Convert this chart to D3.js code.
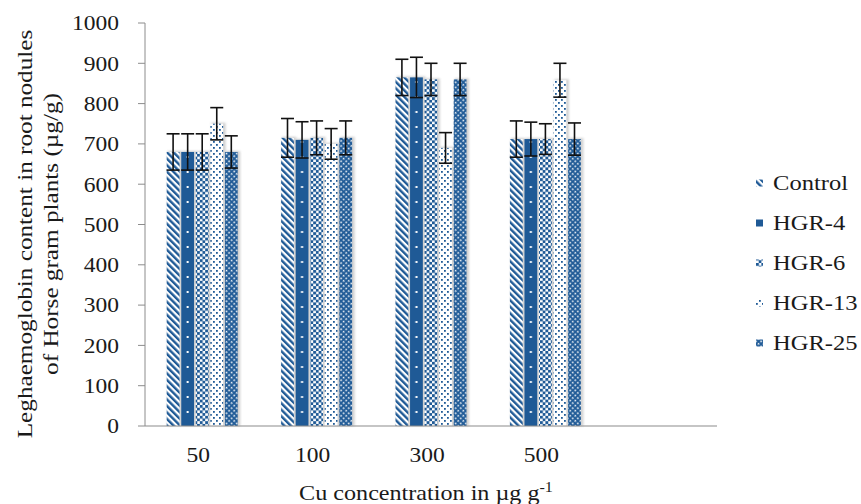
<!DOCTYPE html>
<html>
<head>
<meta charset="utf-8">
<script src="https://cdn.jsdelivr.net/npm/d3@7/dist/d3.min.js"></script>
<style>
  body { margin: 0; background: #fff; }
  text { font-family: "Liberation Serif", "Times New Roman", serif; fill: #1a1a1a; }
</style>
</head>
<body>
<svg width="861" height="504"></svg>
<script>
// data
let concentrations = ["50", "100", "300", "500"];
let series = ["Control", "HGR-4", "HGR-6", "HGR-13", "HGR-25"];
let control = [680, 715, 865, 712];
let hgr4 = [680, 710, 865, 712];
let hgr6 = [680, 715, 860, 712];
let hgr13 = [750, 700, 690, 858];
let hgr25 = [680, 715, 860, 712];
let errControl = [45, 48, 45, 45];
let errHgr4 = [45, 45, 50, 42];
let errHgr6 = [45, 42, 40, 38];
let errHgr13 = [40, 38, 38, 42];
let errHgr25 = [40, 42, 40, 40];
let yTicks = [0, 100, 200, 300, 400, 500, 600, 700, 800, 900, 1000];

let values = [control, hgr4, hgr6, hgr13, hgr25];
let errors = [errControl, errHgr4, errHgr6, errHgr13, errHgr25];

let blue = "#1f5a96";

let svg = d3.select("svg");

let plotLeft = 145, plotRight = 717, plotTop = 23, plotBottom = 426;

// 5 slots on the axis, last one stays empty
let x = d3.scaleBand().domain(concentrations.concat([" "])).range([plotLeft, plotRight]);
let groupW = 71;
let xs = d3.scaleBand().domain(series).range([0, groupW]).paddingInner(0.12);
let y = d3.scaleLinear().domain([0, 1000]).range([plotBottom, plotTop]);

function groupStart(c) {
  return x(c) + x.bandwidth() / 2 - groupW / 2;
}

// the text in the picture is a bit wider than Liberation Serif
function place(px, py, sx) {
  return `translate(${px},${py}) scale(${sx},1)`;
}

let defs = svg.append("defs");

// control: diagonal stripes
defs.append("pattern").attr("id", "pat0")
  .attr("patternUnits", "userSpaceOnUse").attr("width", 4.6).attr("height", 4.6)
  .attr("patternTransform", "rotate(-45)")
  .call(p => {
    p.append("rect").attr("width", 4.6).attr("height", 4.6).attr("fill", "#fff");
    p.append("rect").attr("width", 2.4).attr("height", 4.6).attr("fill", blue);
  });

// HGR-4: solid with a white dot down the middle
let hgr4Center = (groupStart(concentrations[0]) + xs("HGR-4") + xs.bandwidth() / 2) % x.step();
defs.append("pattern").attr("id", "pat1")
  .attr("patternUnits", "userSpaceOnUse").attr("width", x.step()).attr("height", 15)
  .call(p => {
    p.append("rect").attr("width", x.step()).attr("height", 15).attr("fill", blue);
    p.append("rect").attr("x", hgr4Center - 1).attr("y", 6).attr("width", 2).attr("height", 2).attr("fill", "#fff");
  });

// HGR-6: checker
defs.append("pattern").attr("id", "pat2")
  .attr("patternUnits", "userSpaceOnUse").attr("width", 5.4).attr("height", 5.4)
  .call(p => {
    p.append("rect").attr("width", 5.4).attr("height", 5.4).attr("fill", "#fff");
    p.append("rect").attr("width", 2.9).attr("height", 2.9).attr("fill", blue);
    p.append("rect").attr("x", 2.7).attr("y", 2.7).attr("width", 2.7).attr("height", 2.7).attr("fill", blue);
  });

// HGR-13: sparse dots
defs.append("pattern").attr("id", "pat3")
  .attr("patternUnits", "userSpaceOnUse").attr("width", 6).attr("height", 6)
  .call(p => {
    p.append("rect").attr("width", 6).attr("height", 6).attr("fill", "#fff");
    p.append("rect").attr("width", 1.8).attr("height", 1.8).attr("fill", blue);
    p.append("rect").attr("x", 3).attr("y", 3).attr("width", 1.8).attr("height", 1.8).attr("fill", blue);
  });

// HGR-25: trellis
defs.append("pattern").attr("id", "pat4")
  .attr("patternUnits", "userSpaceOnUse").attr("width", 3.6).attr("height", 3.6)
  .attr("patternTransform", "rotate(45)")
  .call(p => {
    p.append("rect").attr("width", 3.6).attr("height", 3.6).attr("fill", blue);
    p.append("rect").attr("x", 1.6).attr("y", 1.6).attr("width", 1.6).attr("height", 1.6).attr("fill", "#fff");
  });

let blur = defs.append("filter").attr("id", "shadow")
  .attr("x", "-50%").attr("y", "-10%").attr("width", "200%").attr("height", "120%");
blur.append("feGaussianBlur").attr("stdDeviation", 1.2);

// table built from the arrays
let rows = [];
concentrations.forEach((c, i) => {
  series.forEach((s, j) => {
    rows.push({ c: c, s: s, j: j, v: values[j][i], e: errors[j][i] });
  });
});

// shadows
svg.append("g").selectAll("rect")
  .data(rows).enter().append("rect")
  .attr("x", d => groupStart(d.c) + xs(d.s) + 1)
  .attr("y", d => y(d.v) - 1)
  .attr("width", xs.bandwidth() + 1.5)
  .attr("height", d => y(0) - y(d.v) + 1)
  .attr("fill", "#bdbdbd")
  .attr("opacity", 0.7)
  .attr("filter", "url(#shadow)");

// bars
svg.append("g").selectAll("rect")
  .data(rows).enter().append("rect")
  .attr("x", d => groupStart(d.c) + xs(d.s))
  .attr("y", d => y(d.v))
  .attr("width", xs.bandwidth())
  .attr("height", d => y(0) - y(d.v))
  .attr("fill", d => `url(#pat${d.j})`);

// axes
svg.append("line")
  .attr("x1", plotLeft).attr("x2", plotLeft).attr("y1", y(1000)).attr("y2", y(0))
  .attr("stroke", "#8c8c8c").attr("stroke-width", 1);
svg.append("line")
  .attr("x1", plotLeft).attr("x2", plotRight).attr("y1", y(0)).attr("y2", y(0))
  .attr("stroke", "#8c8c8c").attr("stroke-width", 1.2);

let yAxis = svg.append("g")
  .selectAll("g").data(yTicks).enter().append("g")
  .attr("transform", d => `translate(0,${y(d)})`);
yAxis.append("line").attr("x1", plotLeft - 7).attr("x2", plotLeft)
  .attr("stroke", "#8c8c8c");
yAxis.append("text")
  .attr("transform", place(plotLeft - 26, 0, 1.12))
  .attr("dy", "0.35em")
  .attr("text-anchor", "end")
  .style("font-size", "21px")
  .text(d => d);

svg.append("g").selectAll("text")
  .data(concentrations).enter().append("text")
  .attr("transform", d => place(x(d) + x.bandwidth() / 2 - 4, 462, 1.12))
  .attr("text-anchor", "middle")
  .style("font-size", "21px")
  .text(d => d);

// error bars
let err = svg.append("g").selectAll("g")
  .data(rows).enter().append("g")
  .attr("stroke", "#111").attr("stroke-width", 1.6);
let cx = d => groupStart(d.c) + xs(d.s) + xs.bandwidth() / 2;
err.append("line")
  .attr("x1", cx).attr("x2", cx)
  .attr("y1", d => y(d.v + d.e)).attr("y2", d => y(d.v - d.e));
err.append("line")
  .attr("x1", d => cx(d) - 6.5).attr("x2", d => cx(d) + 6.5)
  .attr("y1", d => y(d.v + d.e)).attr("y2", d => y(d.v + d.e));
err.append("line")
  .attr("x1", d => cx(d) - 6.5).attr("x2", d => cx(d) + 6.5)
  .attr("y1", d => y(d.v - d.e)).attr("y2", d => y(d.v - d.e));

// titles
let xt = svg.append("text")
  .attr("transform", place(426, 500, 1.15))
  .attr("text-anchor", "middle")
  .style("font-size", "21px");
xt.append("tspan").text("Cu concentration in µg g");
xt.append("tspan").attr("dy", -8).style("font-size", "14px").text("-1");

let yt = svg.append("text")
  .attr("transform", "translate(32,234) rotate(-90) scale(1.2,1)")
  .attr("text-anchor", "middle")
  .style("font-size", "21px");
yt.append("tspan").attr("x", 0).text("Leghaemoglobin  content in root nodules");
yt.append("tspan").attr("x", 0).attr("dy", 26).text("of Horse gram plants (µg/g)");

// legend
let legend = svg.append("g").selectAll("g")
  .data(series).enter().append("g")
  .attr("transform", (d, i) => `translate(756,${183 + i * 40})`);
legend.append("rect")
  .attr("x", 0).attr("y", -3.5).attr("width", 7).attr("height", 7)
  .attr("fill", (d, i) => `url(#pat${i})`);
legend.append("text")
  .attr("transform", place(17, 0, 1.17))
  .attr("dy", "0.35em")
  .style("font-size", "21px")
  .text(d => d);
</script>
</body>
</html>
